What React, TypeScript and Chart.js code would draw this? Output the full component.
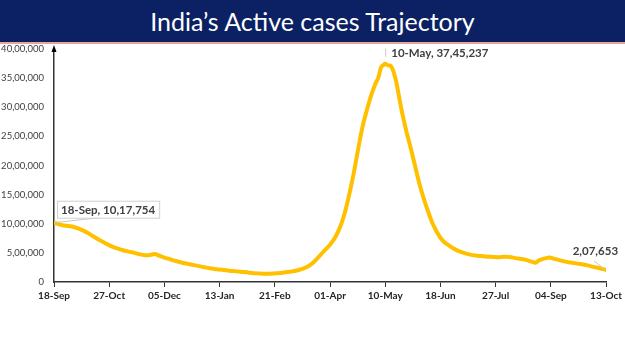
import React, { useEffect, useRef } from "react";
import { Chart, registerables } from "chart.js";

Chart.register(...registerables);

// Days since 18-Sep-2020
const dayIndex: number[] = [
  0, 3, 6, 10, 14, 17, 20, 24, 28, 32, 36, 40, 44, 48, 52, 56, 60, 64, 68, 71,
  74, 78, 82, 86, 90, 95, 100, 105, 110, 115, 120, 126, 132, 138, 144, 150, 155,
  160, 165, 170, 175, 179, 183, 187, 191, 195, 199, 203, 206, 209, 212, 215, 218,
  221, 224, 227, 229, 231, 233, 234, 236, 238, 240, 242, 244, 246, 249, 252, 255,
  258, 261, 264, 267, 270, 273, 276, 279, 282, 286, 290, 294, 298, 302, 306, 310,
  314, 318, 322, 326, 330, 334, 338, 340, 343, 347, 350, 353, 357, 361, 365, 369,
  373, 377, 381, 385, 388, 390,
];

// Active cases
const activeCases: number[] = [
  1017754, 995000, 975000, 960000, 945000, 920000, 890000, 840000, 780000, 720000,
  670000, 620000, 580000, 550000, 525000, 505000, 480000, 460000, 465000, 480000,
  455000, 420000, 390000, 360000, 335000, 310000, 285000, 260000, 235000, 220000,
  205000, 190000, 175000, 160000, 148000, 140000, 145000, 155000, 170000, 190000,
  220000, 260000, 330000, 430000, 540000, 640000, 780000, 1000000, 1240000, 1550000,
  1900000, 2300000, 2670000, 2950000, 3200000, 3400000, 3500000, 3680000, 3730000,
  3745237, 3720000, 3710000, 3600000, 3410000, 3150000, 2900000, 2580000, 2300000,
  2000000, 1700000, 1450000, 1230000, 1030000, 880000, 760000, 680000, 630000,
  580000, 530000, 495000, 470000, 455000, 445000, 435000, 430000, 425000, 435000,
  430000, 410000, 395000, 375000, 345000, 330000, 375000, 405000, 420000, 400000,
  375000, 350000, 335000, 320000, 305000, 285000, 260000, 240000, 220000, 207653,
];

const xTickLabels: string[] = [
  "18-Sep", "27-Oct", "05-Dec", "13-Jan", "21-Feb", "01-Apr",
  "10-May", "18-Jun", "27-Jul", "04-Sep", "13-Oct",
];
const xTickStep = 39;
const yMax = 4000000;
const yStep = 500000;

const titleText = "India\u2019s Active cases Trajectory";

function fmtIN(n: number): string {
  if (n === 0) return "0";
  const s = String(Math.round(n));
  if (s.length <= 3) return s;
  const last3 = s.slice(-3);
  let rest = s.slice(0, -3);
  const parts: string[] = [];
  while (rest.length > 2) {
    parts.unshift(rest.slice(-2));
    rest = rest.slice(0, -2);
  }
  if (rest) parts.unshift(rest);
  return parts.join(",") + "," + last3;
}

function labelForDay(d: number): string {
  const i = Math.round(d / xTickStep);
  return xTickLabels[i] ?? "";
}

const annotationPlugin = {
  id: "annots",
  afterDatasetsDraw(chart: any) {
    const { ctx, scales } = chart;
    const xs = scales.x;
    const ys = scales.y;
    ctx.save();
    // arrow at top of y axis
    const ax = xs.left;
    const ay = ys.top;
    ctx.fillStyle = "#000";
    ctx.beginPath();
    ctx.moveTo(ax, ay - 4);
    ctx.lineTo(ax - 2.5, ay + 3);
    ctx.lineTo(ax + 2.5, ay + 3);
    ctx.closePath();
    ctx.fill();

    ctx.font = "bold 11.5px Lato";
    ctx.textBaseline = "middle";
    ctx.fillStyle = "#404040";

    // first point
    const i0 = 0;
    const p0x = xs.getPixelForValue(dayIndex[i0]);
    const p0y = ys.getPixelForValue(activeCases[i0]);
    const t0 = `${labelForDay(dayIndex[i0])}, ${fmtIN(activeCases[i0])}`;
    const w0 = ctx.measureText(t0).width;
    const bx = p0x + 3;
    const by = p0y - 22;
    const bw = w0 + 8;
    const bh = 17;
    ctx.strokeStyle = "#c8c8c8";
    ctx.lineWidth = 1;
    ctx.beginPath();
    ctx.moveTo(p0x, p0y);
    ctx.lineTo(bx + 42, by + bh);
    ctx.stroke();
    ctx.fillStyle = "#fff";
    ctx.fillRect(bx, by, bw, bh);
    ctx.strokeStyle = "#d0d0d0";
    ctx.strokeRect(bx + 0.5, by + 0.5, bw, bh);
    ctx.fillStyle = "#404040";
    ctx.textAlign = "left";
    ctx.fillText(t0, bx + 4, by + bh / 2 + 1);

    // peak
    let ip = 0;
    for (let i = 1; i < activeCases.length; i++) if (activeCases[i] > activeCases[ip]) ip = i;
    const ppx = xs.getPixelForValue(dayIndex[ip]);
    const ppy = ys.getPixelForValue(activeCases[ip]);
    ctx.strokeStyle = "#c8c8c8";
    ctx.beginPath();
    ctx.moveTo(ppx + 0.5, ppy - 7);
    ctx.lineTo(ppx + 0.5, ppy - 15);
    ctx.stroke();
    ctx.fillStyle = "#404040";
    ctx.fillText(`${labelForDay(dayIndex[ip])}, ${fmtIN(activeCases[ip])}`, ppx + 6, ppy - 11);

    // last point
    const il = activeCases.length - 1;
    const plx = xs.getPixelForValue(dayIndex[il]);
    const ply = ys.getPixelForValue(activeCases[il]);
    ctx.strokeStyle = "#c8c8c8";
    ctx.beginPath();
    ctx.moveTo(plx - 2, ply - 1);
    ctx.lineTo(plx - 12, ply - 9);
    ctx.stroke();
    ctx.fillStyle = "#404040";
    ctx.textAlign = "right";
    ctx.fillText(fmtIN(activeCases[il]), plx + 12, ply - 19);
    ctx.restore();
  },
};

export default function App() {
  const ref = useRef<HTMLCanvasElement | null>(null);
  useEffect(() => {
    document.body.style.margin = "0";
    if (!ref.current) return;
    const chart = new Chart(ref.current, {
      type: "line",
      data: {
        datasets: [
          {
            data: dayIndex.map((d, i) => ({ x: d, y: activeCases[i] })),
            borderColor: "#FFC000",
            borderWidth: 4,
            pointRadius: 0,
            tension: 0.35,
            fill: false,
            borderCapStyle: "round",
            borderJoinStyle: "round",
          },
        ],
      },
      options: {
        animation: false,
        responsive: false,
        layout: { padding: { top: 49, right: 18, left: 0, bottom: 0 } },
        plugins: { legend: { display: false }, tooltip: { enabled: false } },
        scales: {
          x: {
            type: "linear",
            min: 0,
            max: xTickStep * (xTickLabels.length - 1),
            afterFit: (s: any) => {
              s.height = 69;
            },
            afterBuildTicks: (s: any) => {
              s.ticks = xTickLabels.map((_, i) => ({ value: i * xTickStep }));
            },
            ticks: {
              autoSkip: false,
              maxRotation: 0,
              padding: 3,
              color: "#262626",
              font: { family: "Lato", size: 10, weight: "bold" },
              callback: (v: any) => labelForDay(Number(v)),
            },
            grid: {
              display: true,
              drawOnChartArea: false,
              drawTicks: true,
              tickLength: 5,
              color: "#333",
            },
            border: { display: true, color: "#333", width: 1.5 },
          },
          y: {
            min: 0,
            max: yMax,
            afterFit: (s: any) => {
              s.width = 54;
            },
            ticks: {
              stepSize: yStep,
              padding: 10,
              color: "#404040",
              font: { family: "Lato", size: 9.5 },
              callback: (v: any) => fmtIN(Number(v)),
            },
            grid: { display: true, drawOnChartArea: false, drawTicks: false, color: "#333" },
            border: { display: true, color: "#333", width: 1.5 },
          },
        },
      },
      plugins: [annotationPlugin],
    } as any);
    return () => chart.destroy();
  }, []);

  return (
    <div style={{ position: "absolute", left: 0, top: 0, width: 625, height: 351, background: "#fff" }}>
      <canvas ref={ref} width={625} height={351} style={{ position: "absolute", left: 0, top: 0 }} />
      <div
        style={{
          position: "absolute",
          left: 0,
          top: 0,
          width: 625,
          height: 42,
          background: "#0b2163",
          borderBottom: "2px solid #e9a595",
          color: "#fff",
          fontFamily: "Lato, sans-serif",
          fontSize: 25,
          lineHeight: "42px",
          textAlign: "center",
        }}
      >
        {titleText}
      </div>
    </div>
  );
}
